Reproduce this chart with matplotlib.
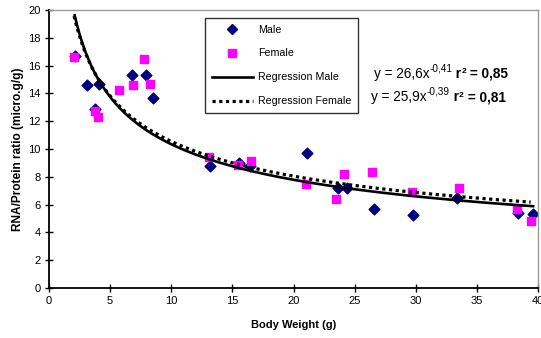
import matplotlib.pyplot as plt
import numpy as np
from matplotlib.lines import Line2D

plt.rcParams['font.family'] = ['Liberation Sans', 'DejaVu Sans']

# body weight (g) and RNA/protein ratio
male_w = [2.1, 3.1, 4.1, 3.8, 6.8, 7.9, 8.5, 13.2, 15.5, 16.4, 21.1, 23.6, 24.4, 26.6, 29.8, 33.4, 38.4, 39.6]
male_r = [16.7, 14.6, 14.7, 12.85, 15.3, 15.3, 13.65, 8.8, 9.0, 8.8, 9.75, 7.2, 7.2, 5.7, 5.25, 6.45, 5.4, 5.3]
female_w = [2.05, 3.8, 4.0, 5.75, 6.9, 7.75, 8.3, 13.1, 15.45, 16.5, 21.0, 23.5, 24.1, 26.4, 29.7, 33.55, 38.3, 39.4]
female_r = [16.65, 12.75, 12.3, 14.25, 14.6, 16.45, 14.7, 9.4, 8.85, 9.15, 7.5, 6.4, 8.2, 8.35, 6.9, 7.2, 5.65, 4.85]

# regression coefficients printed on the chart: y = a * x^b
male_a, male_b = 26.6, -0.41
female_a, female_b = 25.9, -0.39
eq_lines = [('y = 26,6x', '-0,41', '0,85'), ('y = 25,9x', '-0,39', '0,81')]

fig = plt.figure(figsize=(5.41, 3.38), dpi=100)
ax = fig.add_axes([0.0906, 0.148, 0.9039, 0.822])

ax.scatter(male_w, male_r, marker='D', s=30, color='#000080', zorder=2, label='Male')
ax.scatter(female_w, female_r, marker='s', s=34, color='#FF00FF', zorder=3, label='Female')

xm = np.linspace(min(male_w), max(male_w), 200)
ax.plot(xm, male_a * xm ** male_b, color='black', lw=1.9, zorder=4)
xf = np.linspace(min(female_w), max(female_w), 200)
ax.plot(xf, female_a * xf ** female_b, color='black', lw=2.3, linestyle=(0, (1, 1.1)),
        dash_capstyle='butt', zorder=4)

ax.set_xlim(0, 40)
ax.set_ylim(0, 20)
ax.set_xticks(range(0, 41, 5))
ax.set_yticks(range(0, 21, 2))
ax.tick_params(direction='inout', length=6, width=1, labelsize=8, pad=3, colors='black')
ax.spines['left'].set_linewidth(1.3)
ax.spines['bottom'].set_linewidth(1.3)
for s in ['top', 'right']:
    ax.spines[s].set_color('#999999')
    ax.spines[s].set_linewidth(1)

ax.set_xlabel('Body Weight (g)', fontsize=8, fontweight='bold', labelpad=10)
ax.set_ylabel('RNA/Protein ratio (micro.g/g)', fontsize=8.6, fontweight='bold', labelpad=3)

handles = [
    Line2D([], [], marker='D', color='#000080', linestyle='none', markersize=5.5),
    Line2D([], [], marker='s', color='#FF00FF', linestyle='none', markersize=6),
    Line2D([], [], color='black', lw=1.9),
    Line2D([], [], color='black', lw=2.3, linestyle=(0, (1, 1.1))),
]
labels = ['Male', 'Female', 'Regression Male', 'Regression Female']
leg = ax.legend(handles, labels, loc='upper left', bbox_to_anchor=(0.319, 0.973),
                fontsize=7.7, frameon=True, fancybox=False, edgecolor='black',
                handlelength=3.8, handletextpad=0.5, labelspacing=1.3,
                borderpad=0.65, borderaxespad=0)
leg.get_frame().set_linewidth(1)

# equation text built from pieces so the exponent sits raised
eq_pos = [(0.664, 0.757), (0.659, 0.672)]
for (base, expo, r2), (ex, ey) in zip(eq_lines, eq_pos):
    t = ax.text(ex, ey, base, transform=ax.transAxes, fontsize=9.8)
    t = ax.annotate(expo, xy=(1, 0), xycoords=t, xytext=(0, 5.5), textcoords='offset points',
                    fontsize=7.2, va='bottom')
    t = ax.annotate(' r', xy=(1, 0), xycoords=t, xytext=(0, -5.5), textcoords='offset points',
                    fontsize=9.8, fontweight='bold', va='bottom')
    t2 = ax.annotate('2', xy=(1, 0), xycoords=t, xytext=(0, 4), textcoords='offset points',
                     fontsize=6, fontweight='bold', va='bottom')
    ax.annotate(' = ' + r2, xy=(1, 0), xycoords=t2, xytext=(0, -4), textcoords='offset points',
                fontsize=9.8, fontweight='bold', va='bottom')

fig.savefig('out.png', dpi=100)
